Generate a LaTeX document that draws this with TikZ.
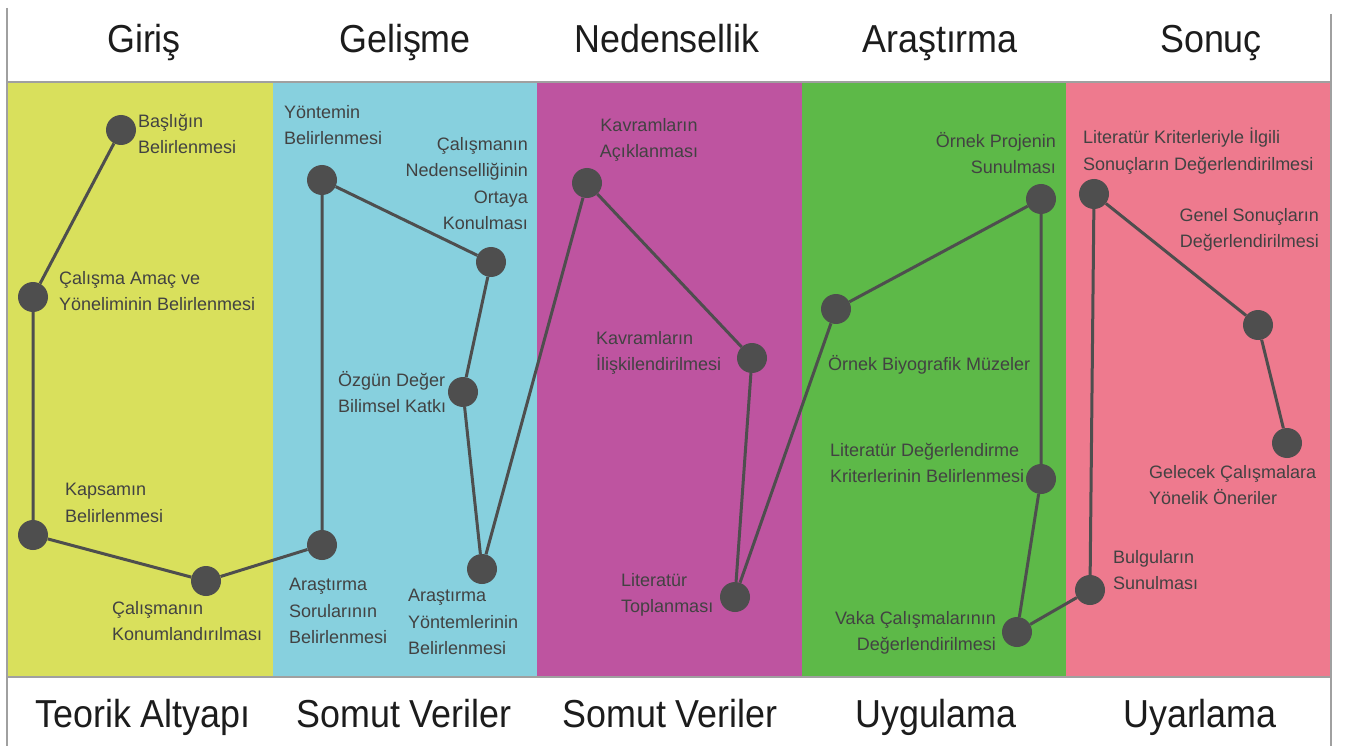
\documentclass[tikz,border=0pt]{standalone}
\usepackage{fontspec}
\setmainfont{Liberation Sans}[FakeStretch=0.92]
\newfontfamily\labelfont{Liberation Sans}
\definecolor{giris}{RGB}{217,224,92}
\definecolor{gelisme}{RGB}{135,208,222}
\definecolor{nedensellik}{RGB}{190,84,160}
\definecolor{arastirma}{RGB}{93,185,72}
\definecolor{sonuc}{RGB}{238,122,142}
\definecolor{dotgray}{RGB}{78,78,78}
\definecolor{labelgray}{RGB}{66,66,66}
\definecolor{titlegray}{RGB}{28,28,28}
\definecolor{framegray}{RGB}{160,160,160}

\begin{document}
\begin{tikzpicture}[x=1pt, y=-1pt,
		dot/.style={circle, fill=dotgray, inner sep=0pt, minimum size=30pt},
		link/.style={dotgray, line width=3pt},
		lbl/.style={font=\labelfont\fontsize{18}{26.5}\selectfont, text=labelgray, inner sep=0pt, execute at begin node=\strut},
		lbll/.style={lbl, align=left, anchor=north west},
		lblr/.style={lbl, align=right, anchor=north east},
		lblc/.style={lbl, align=center, anchor=north},
		title/.style={font=\fontsize{39}{39}\selectfont, text=titlegray, anchor=base, inner sep=0pt}]
	\useasboundingbox (0,0) rectangle (1347,746);
	\fill[white] (0,0) rectangle (1347,746);
	\foreach \i/\colour/\hx/\hd/\fx/\ft in {0/giris/144/Giriş/143/Teorik Altyapı, 1/gelisme/405/Gelişme/404/Somut Veriler,
		2/nedensellik/667/Nedensellik/670/Somut Veriler, 3/arastirma/940/Araştırma/936/Uygulama, 4/sonuc/1211/Sonuç/1200/Uyarlama}
	{
		\fill[\colour] (8+264.6*\i, 83) rectangle + (264.6, 594);
		\node[title] (head\i) at (\hx, 53) {\hd};
		\node[title] (foot\i) at (\fx, 727) {\ft};
	}
	\draw[framegray, line width=1.5pt] (7,8) -- (7,746) (1331,14) -- (1331,746)
		(7,82) -- (1331,82) (7,677) -- (1331,677);

	\node[dot] (a1) at (121,130) {};
	\node[dot] (a2) at (33,297) {};
	\node[dot] (a3) at (33,535) {};
	\node[dot] (a4) at (206,581) {};
	\node[dot] (b1) at (322,545) {};
	\node[dot] (b2) at (322,180) {};
	\node[dot] (b3) at (491,262) {};
	\node[dot] (b4) at (463,392) {};
	\node[dot] (b5) at (482,569) {};
	\node[dot] (c1) at (587,183) {};
	\node[dot] (c2) at (752,358) {};
	\node[dot] (c3) at (735,597) {};
	\node[dot] (d1) at (836,309) {};
	\node[dot] (d2) at (1041,199) {};
	\node[dot] (d3) at (1041,479) {};
	\node[dot] (d4) at (1017,632) {};
	\node[dot] (e1) at (1090,590) {};
	\node[dot] (e2) at (1094,194) {};
	\node[dot] (e3) at (1258,325) {};
	\node[dot] (e4) at (1287,443) {};

	\draw[link] (a1) -- (a2) -- (a3) -- (a4) -- (b1) -- (b2) -- (b3) -- (b4) -- (b5) -- (c1) -- (c2) -- (c3)
		-- (d1) -- (d2) -- (d3) -- (d4) -- (e1) -- (e2) -- (e3) -- (e4);

	\node[lbll] (a1t) at (138,114) {Başlığın\\Belirlenmesi};
	\node[lbll] (a2t) at (59,271) {Çalışma Amaç ve\\Yöneliminin Belirlenmesi};
	\node[lbll] (a3t) at (65,483) {Kapsamın\\Belirlenmesi};
	\node[lbll] (a4t) at (112,601) {Çalışmanın\\Konumlandırılması};
	\node[lbll] (b1t) at (289,578) {Araştırma\\Sorularının\\Belirlenmesi};
	\node[lbll] (b2t) at (284,105) {Yöntemin\\Belirlenmesi};
	\node[lblr] (b3t) at (528,137) {Çalışmanın\\Nedenselliğinin\\Ortaya\\Konulması};
	\node[lbll] (b4t) at (338,371) {Özgün Değer\\Bilimsel Katkı};
	\node[lbll] (b5t) at (408,589) {Araştırma\\Yöntemlerinin\\Belirlenmesi};
	\node[lblc] (c1t) at (649,118) {Kavramların\\Açıklanması};
	\node[lbll] (c2t) at (596,331) {Kavramların\\İlişkilendirilmesi};
	\node[lbll] (c3t) at (621,573) {Literatür\\Toplanması};
	\node[lbll] (d1t) at (828,352) {Örnek Biyografik Müzeler};
	\node[lblr] (d2t) at (1056,132) {Örnek Projenin\\Sunulması};
	\node[lbll] (d3t) at (830,443) {Literatür Değerlendirme\\Kriterlerinin Belirlenmesi};
	\node[lblr] (d4t) at (996,611) {Vaka Çalışmalarının\\Değerlendirilmesi};
	\node[lbll] (e1t) at (1113,550) {Bulguların\\Sunulması};
	\node[lbll] (e2t) at (1083,128) {Literatür Kriterleriyle İlgili\\Sonuçların Değerlendirilmesi};
	\node[lblr] (e3t) at (1319,208) {Genel Sonuçların\\Değerlendirilmesi};
	\node[lbll] (e4t) at (1149,465) {Gelecek Çalışmalara\\Yönelik Öneriler};
\end{tikzpicture}
\end{document}
